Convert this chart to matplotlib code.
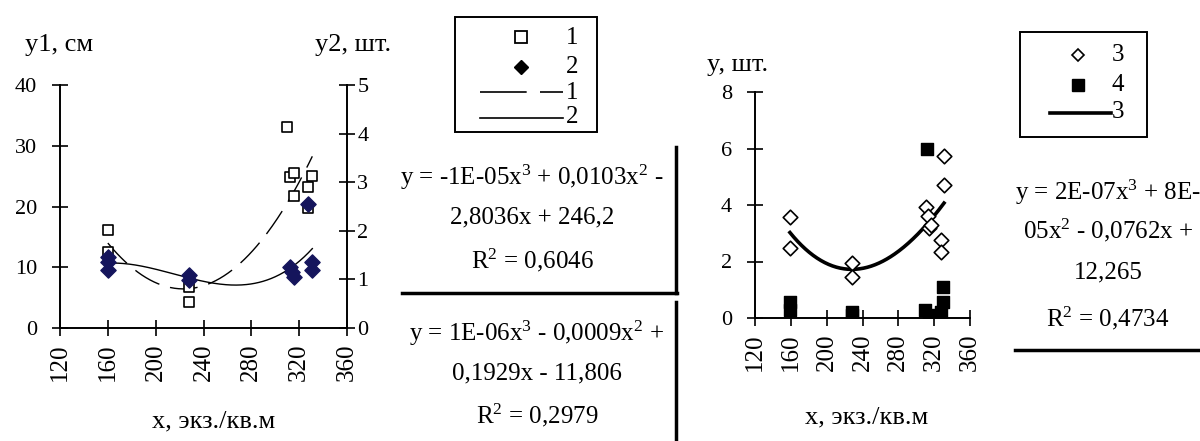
import matplotlib
matplotlib.use("Agg")
import matplotlib.pyplot as plt
from matplotlib.lines import Line2D
from matplotlib.patches import Rectangle
import numpy as np

plt.rcParams['font.family'] = ['Liberation Serif', 'DejaVu Serif']
plt.rcParams['mathtext.fontset'] = 'custom'
plt.rcParams['mathtext.rm'] = 'Liberation Serif'
plt.rcParams['mathtext.it'] = 'Liberation Serif'

# left chart data: series 1 (y1, cm), series 2 (y2, pcs)
x1 = [160, 160, 228, 228, 310, 312, 316, 316, 327, 327, 331]
y1 = [16.1, 12.5, 6.7, 4.3, 33.1, 24.9, 25.5, 21.7, 23.2, 19.8, 25.0]
x2 = [160, 160, 160, 228, 228, 312, 314, 316, 327, 331, 331]
y2 = [1.46, 1.35, 1.19, 1.09, 0.98, 1.25, 1.15, 1.05, 2.55, 1.36, 1.2]

# right chart data: series 3 and 4
x3 = [159, 159, 228, 228, 311, 313, 314, 316, 328, 328, 331, 331]
y3 = [3.58, 2.48, 1.95, 1.45, 3.93, 3.6, 3.2, 3.3, 2.76, 2.34, 4.7, 5.73]
x4 = [159, 159, 228, 228, 312, 310, 314, 320, 330, 330, 328]
y4 = [0.57, 0.3, 0.2, 0.1, 6.0, 0.3, 0.1, 0.05, 1.1, 0.55, 0.2]

xticks = [120, 160, 200, 240, 280, 320, 360]

eq1 = [r"y = -1E-05x$^3$ + 0,0103x$^2$ -", "2,8036x + 246,2", r"R$^2$ = 0,6046"]
eq2 = [r"y = 1E-06x$^3$ - 0,0009x$^2$ +", "0,1929x - 11,806", r"R$^2$ = 0,2979"]
eq3 = [r"y = 2E-07x$^3$ + 8E-", r"05x$^2$ - 0,0762x +", "12,265", r"R$^2$ = 0,4734"]

navy = '#15155c'
W, H = 1200, 441
fig = plt.figure(figsize=(12, 4.41), dpi=100)


def fx(px):
    return px / W


def fy(py):
    return 1 - py / H


def trend(xs, ys, deg=3, balanced=False):
    xs = np.asarray(xs, float)
    w = None
    if balanced:
        # give each density group the same total weight
        grp = np.digitize(xs, [200, 280])
        cnt = np.bincount(grp)
        w = 1 / np.sqrt(cnt[grp])
    c = np.polyfit(xs, ys, deg, w=w)
    xx = np.linspace(xs.min(), xs.max(), 200)
    return xx, np.polyval(c, xx)


def style(ax):
    ax.tick_params(direction='inout', length=11, width=1.2, labelsize=16, pad=11)
    ax.tick_params(axis='x', labelsize=18, pad=6)
    for s in ax.spines.values():
        s.set_linewidth(1.4)


def fline(x0, x1_, y, **kw):
    fig.add_artist(Line2D([fx(x0), fx(x1_)], [fy(y), fy(y)], color='black', **kw))


def fvline(x, y0, y1_, **kw):
    fig.add_artist(Line2D([fx(x), fx(x)], [fy(y0), fy(y1_)], color='black', **kw))


def fmark(x, y, **kw):
    fig.add_artist(Line2D([fx(x)], [fy(y)], ls='none', **kw))


def fbox(x0, y0, x1_, y1_):
    fig.add_artist(Rectangle((fx(x0), fy(y1_)), fx(x1_ - x0), (y1_ - y0) / H,
                             transform=fig.transFigure, fill=False, ec='black', lw=1.4))


# ---- left chart ----
ax1 = fig.add_axes([fx(60), fy(328), fx(347 - 60), (328 - 85) / H])
ax2 = ax1.twinx()
ax1.scatter(x1, y1, marker='s', s=60, facecolors='white', edgecolors='black', linewidths=1.2, zorder=3)
ax2.scatter(x2, y2, marker='D', s=60, color=navy, zorder=3)
tx, ty = trend(x1, y1, 2, balanced=True)
ax1.plot(tx, ty, color='black', lw=1, dashes=(20, 8))
tx, ty = trend(x2, y2)
ax2.plot(tx, ty, color='black', lw=1)
ax1.set_xlim(120, 360)
ax1.set_ylim(0, 40)
ax2.set_ylim(0, 5)
ax1.set_xticks(xticks)
ax1.set_yticks([0, 10, 20, 30, 40])
ax2.set_yticks([0, 1, 2, 3, 4, 5])
ax1.set_xticklabels([str(v) for v in xticks], rotation=90)
for a in (ax1, ax2):
    style(a)
    a.spines['top'].set_visible(False)
    a.patch.set_visible(False)
ax2.tick_params(axis='y', pad=2)
ax1.spines['right'].set_visible(False)
ax2.spines['left'].set_visible(False)
ax2.spines['bottom'].set_visible(False)

fig.text(fx(25), fy(45), "y1, см", fontsize=19, va='center')
fig.text(fx(315), fy(45), "y2, шт.", fontsize=19, va='center')
fig.text(fx(214), fy(421), "x, экз./кв.м", fontsize=19, ha='center', va='center')

# legend of the left chart
fbox(455, 17, 597, 132)
fmark(521, 37, marker='s', ms=8, mfc='white', mec='black', mew=1.3)
fmark(521, 67, marker='D', ms=7, color='black')
fline(480, 563, 92, lw=1.2, dashes=(28, 8))
fline(480, 563, 118, lw=1.2)
for lab, py in zip(['1', '2', '1', '2'], [38, 67, 93, 117]):
    fig.text(fx(566), fy(py), lab, fontsize=18, va='center')

for txt, py in zip(eq1, [177, 217, 260]):
    fig.text(fx(532), fy(py), txt, fontsize=18, ha='center', va='center')
for txt, py in zip(eq2, [333, 373, 415]):
    fig.text(fx(537), fy(py), txt, fontsize=18, ha='center', va='center')
fline(402, 677, 293, lw=2.5)
fvline(676, 147, 293, lw=2.5)
fvline(676, 302, 441, lw=2.5)

# ---- right chart ----
ax3 = fig.add_axes([fx(755), fy(318), fx(970 - 755), (318 - 92) / H])
ax3.scatter(x3, y3, marker='D', s=55, facecolors='white', edgecolors='black', linewidths=1.2, zorder=3)
ax3.scatter(x4, y4, marker='s', s=75, color='black', zorder=3)
tx, ty = trend(x3, y3)
ax3.plot(tx, ty, color='black', lw=2.6)
ax3.set_xlim(120, 360)
ax3.set_ylim(0, 8)
ax3.set_xticks(xticks)
ax3.set_yticks([0, 2, 4, 6, 8])
ax3.set_xticklabels([str(v) for v in xticks], rotation=90)
style(ax3)
ax3.spines['top'].set_visible(False)
ax3.spines['right'].set_visible(False)
ax3.patch.set_visible(False)

fig.text(fx(707), fy(65), "y, шт.", fontsize=19, va='center')
fig.text(fx(867), fy(417), "x, экз./кв.м", fontsize=19, ha='center', va='center')

# legend of the right chart
fbox(1020, 32, 1147, 137)
fmark(1078, 55, marker='D', ms=6, mfc='white', mec='black', mew=1.2)
fmark(1078, 85, marker='s', ms=9, color='black')
fline(1050, 1111, 113, lw=2.6)
for lab, py in zip(['3', '4', '3'], [55, 85, 112]):
    fig.text(fx(1112), fy(py), lab, fontsize=18, va='center')

for txt, py in zip(eq3, [192, 230, 272, 318]):
    fig.text(fx(1108), fy(py), txt, fontsize=18, ha='center', va='center')
fline(1015, 1200, 350, lw=2.5)

fig.savefig("out.png", dpi=100, facecolor='white')
